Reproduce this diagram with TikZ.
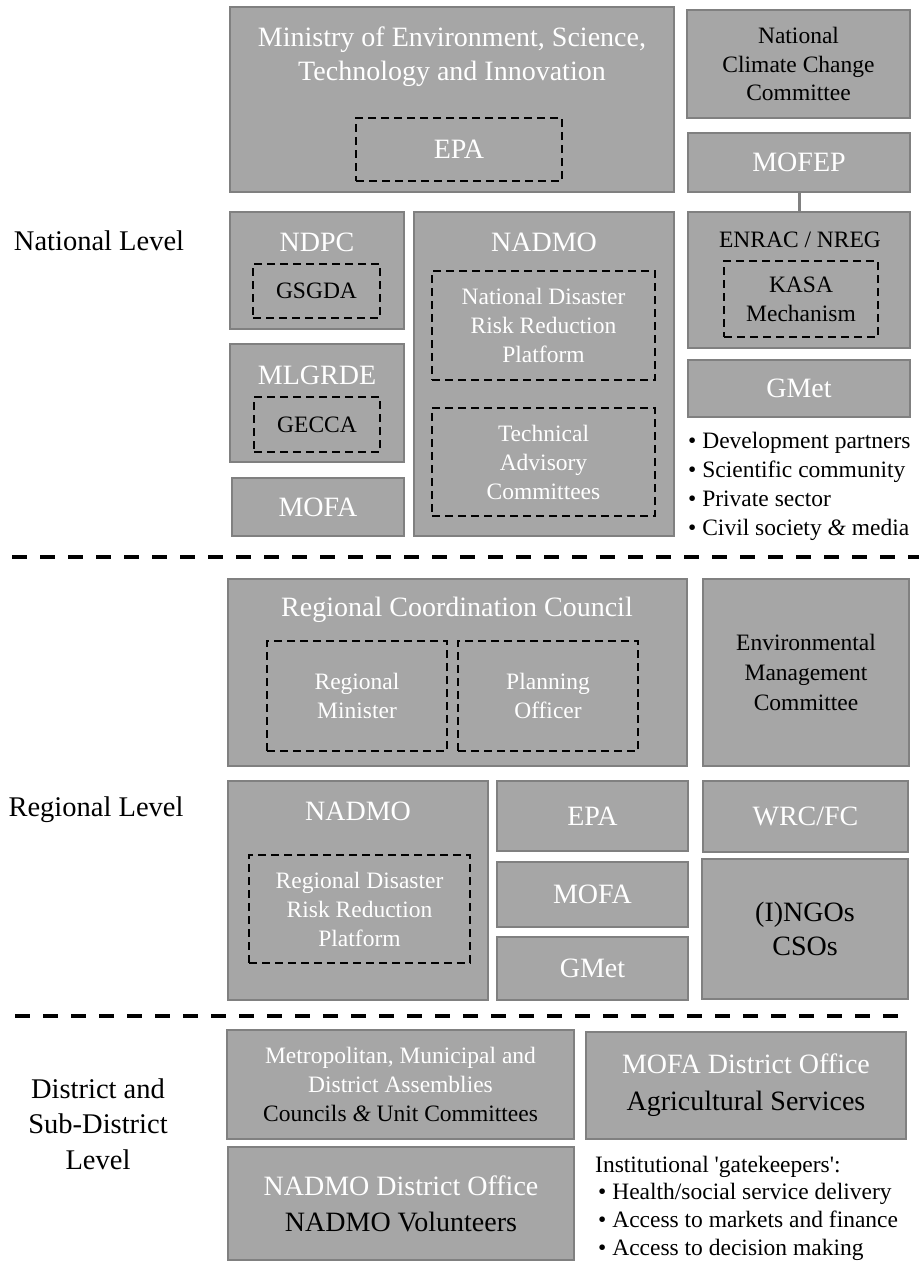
\documentclass[tikz,border=0pt]{standalone}
\usepackage{fontspec}
\setmainfont{Liberation Serif}
\usepackage{tikz}
\usetikzlibrary{positioning}
\definecolor{cBox}{HTML}{A6A6A6}
\definecolor{cBoxL}{HTML}{808080}

\begin{document}
\begin{tikzpicture}[
  x=1pt, y=-1pt,
  % -- hop xam: vien dam, nen nhat, chu trang; khung net dut = don vi con --
  bx/.style={draw=cBoxL, fill=cBox, line width=2pt, anchor=north west,
             inner sep=0pt, outer sep=0pt},
  db/.style={draw=black, line width=2.4pt, dash pattern=on 8pt off 5pt,
             anchor=north west, inner sep=0pt, outer sep=0pt},
  tb/.style={font=\fontsize{28}{34}\selectfont, text=white, align=center},
  tm/.style={font=\fontsize{23.5}{29}\selectfont, text=white, align=center},
  dk/.style={text=black},
  lv/.style={font=\fontsize{28.5}{35.5}\selectfont, align=center, inner sep=0pt},
  nt/.style={font=\fontsize{23.5}{29}\selectfont, align=left, anchor=west,
             inner sep=0pt},
  sep/.style={line width=4.5pt, dash pattern=on 15pt off 13pt},
  ln/.style={draw=cBoxL, line width=3pt},
]
\useasboundingbox (0,0) rectangle (919,1261);
% === cot: nhan 0 / trai 230 / giua 414 / phai 688 ; don vi = 1 px ===

% -- NATIONAL ------------------------------------------------
\node[lv] (natL) at (99,241) {National Level};

\node[bx, minimum width=444pt, minimum height=185pt] (mest) at (230,7) {};
\node[tb, inner sep=0pt] (mestT) at (452,57)
  {Ministry of Environment, Science,\\Technology and Innovation};
\node[db, tb, minimum width=206pt, minimum height=63pt] (mepa) at (356,118) {EPA};

\node[bx, tm, dk, font=\fontsize{23.5}{28.5}\selectfont,
      minimum width=223pt, minimum height=108pt] (nccc) at (687,10)
  {National\\Climate Change\\Committee};
\node[bx, tb, minimum width=222pt, minimum height=59pt] (mofep) at (688,133) {MOFEP};

\node[bx, minimum width=174pt, minimum height=117pt] (ndpc) at (230,212) {};
\node[tb, inner sep=0pt] (ndpcT) at (317,242) {NDPC};
\node[db, tm, dk, minimum width=127pt, minimum height=54pt] (gsgda) at (253,264) {GSGDA};

\node[bx, minimum width=260pt, minimum height=324pt] (nadmo) at (414,212) {};
\node[tb, inner sep=0pt] (nadmoT) at (544,242) {NADMO};
\node[db, tm, minimum width=223pt, minimum height=109pt] (ndrrp) at (432,271)
  {National Disaster\\Risk Reduction\\Platform};
\node[db, tm, minimum width=223pt, minimum height=108pt] (tac) at (432,408)
  {Technical\\Advisory\\Committees};

\node[bx, minimum width=222pt, minimum height=136pt] (enrac) at (688,212) {};
\node[tm, dk, inner sep=0pt] (enracT) at (800,240) {ENRAC / NREG};
\node[db, tm, dk, minimum width=154pt, minimum height=76pt] (kasa) at (724,261)
  {KASA\\Mechanism};
\draw[ln] (mofep.south) -- (enrac.north);

\node[bx, minimum width=174pt, minimum height=118pt] (mlgrde) at (230,344) {};
\node[tb, inner sep=0pt] (mlgrdeT) at (317,375) {MLGRDE};
\node[db, tm, dk, minimum width=126pt, minimum height=55pt] (gecca) at (254,397) {GECCA};

\node[bx, tb, minimum width=172pt, minimum height=58pt] (mofa) at (232,478) {MOFA};
\node[bx, tb, minimum width=222pt, minimum height=57pt] (gmet) at (688,360) {GMet};

\node[nt] (actors) at (688,486)
  {\textbullet\ Development partners\\
   \textbullet\ Scientific community\\
   \textbullet\ Private sector\\
   \textbullet\ Civil society \textit{\&} media};

\coordinate (s1a) at (12,557);
\coordinate (s1b) at (919,557);
\draw[sep] (s1a) -- (s1b);

% -- REGIONAL ------------------------------------------------
\node[lv] (regL) at (96,810) {Regional Level};

\node[bx, minimum width=459pt, minimum height=187pt] (rcc) at (228,579) {};
\node[tb, inner sep=0pt] (rccT) at (457,610) {Regional Coordination Council};
\node[db, tm, minimum width=180pt, minimum height=110pt] (rmin) at (267,641)
  {Regional\\Minister};
\node[db, tm, minimum width=180pt, minimum height=110pt] (rplan) at (458,641)
  {Planning\\Officer};
\node[bx, tm, dk, font=\fontsize{23.5}{30}\selectfont,
      minimum width=206pt, minimum height=187pt] (emc) at (703,579)
  {Environmental\\Management\\Committee};

\node[bx, minimum width=260pt, minimum height=219pt] (rnadmo) at (228,781) {};
\node[tb, inner sep=0pt] (rnadmoT) at (358,811) {NADMO};
\node[db, tm, minimum width=221pt, minimum height=108pt] (rdrrp) at (249,855)
  {Regional Disaster\\Risk Reduction\\Platform};

\node[bx, tb, minimum width=191pt, minimum height=70pt] (repa) at (497,781) {EPA};
\node[bx, tb, minimum width=191pt, minimum height=65pt] (rmofa) at (497,862) {MOFA};
\node[bx, tb, minimum width=191pt, minimum height=63pt] (rgmet) at (497,937) {GMet};
\node[bx, tb, minimum width=205pt, minimum height=71pt] (wrc) at (703,781) {WRC/FC};
\node[bx, tb, dk, minimum width=206pt, minimum height=140pt] (ngo) at (702,859)
  {(I)NGOs\\CSOs};

\coordinate (s2a) at (15,1016);
\coordinate (s2b) at (898,1016);
\draw[sep] (s2a) -- (s2b);

% -- DISTRICT ------------------------------------------------
\node[lv] (disL) at (98,1124) {District and\\Sub-District\\Level};

\node[bx, tm, minimum width=347pt, minimum height=109pt] (mmda) at (227,1030)
  {Metropolitan, Municipal and\\District Assemblies\\
   \textcolor{black}{Councils \textit{\&} Unit Committees}};
\node[bx, tb, font=\fontsize{28}{37}\selectfont,
      minimum width=320pt, minimum height=107pt] (mofad) at (586,1032)
  {MOFA District Office\\\textcolor{black}{Agricultural Services}};
\node[bx, tb, font=\fontsize{28}{36}\selectfont,
      minimum width=346pt, minimum height=113pt] (nadd) at (228,1147)
  {NADMO District Office\\\textcolor{black}{NADMO Volunteers}};

\node[nt, font=\fontsize{23.5}{27.7}\selectfont] (gate) at (595,1208)
  {Institutional \textquotesingle gatekeepers\textquotesingle:\\
   \hspace*{3pt}\textbullet\ Health/social service delivery\\
   \hspace*{3pt}\textbullet\ Access to markets and finance\\
   \hspace*{3pt}\textbullet\ Access to decision making};
\end{tikzpicture}
\end{document}
